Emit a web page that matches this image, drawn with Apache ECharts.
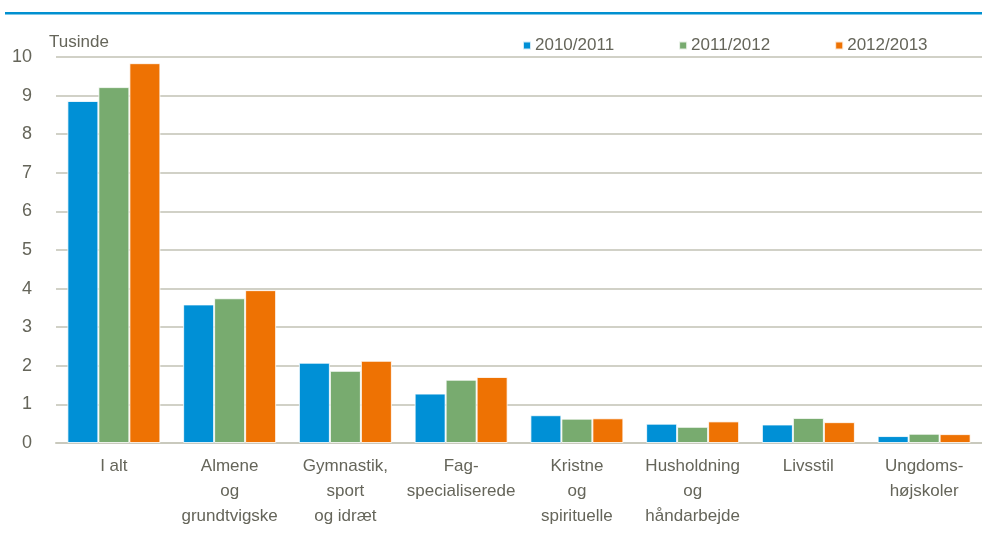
<!DOCTYPE html>
<html>
<head>
<meta charset="utf-8">
<script src="https://cdn.jsdelivr.net/npm/echarts@6/dist/echarts.min.js"></script>
<style>
html,body{margin:0;padding:0;background:#fff;}
#chart{width:982px;height:548px;}
</style>
</head>
<body>
<div id="chart"></div>
<script>
const categories = ['I alt', 'Almene\nog\ngrundtvigske', 'Gymnastik,\nsport\nog idræt', 'Fag-\nspecialiserede', 'Kristne\nog\nspirituelle', 'Husholdning\nog\nhåndarbejde', 'Livsstil', 'Ungdoms-\nhøjskoler'];
const seriesNames = ['2010/2011', '2011/2012', '2012/2013'];
const v2010 = [8.86, 3.59, 2.08, 1.28, 0.72, 0.50, 0.48, 0.18];
const v2011 = [9.22, 3.75, 1.87, 1.64, 0.63, 0.42, 0.65, 0.24];
const v2012 = [9.84, 3.96, 2.13, 1.71, 0.64, 0.56, 0.54, 0.23];
const yTicks = [0, 10, 1];

const FONT = "'Liberation Sans Narrow', 'Arial Narrow', 'Liberation Sans', sans-serif";
const TXT = '#65655a';
const colors = ['#0090d6', '#78ab6f', '#ee7203'];

const chart = echarts.init(document.getElementById('chart'), null, {renderer: 'canvas'});
const data = [v2010, v2011, v2012];
chart.setOption({
  animation: false,
  color: colors,
  textStyle: {fontFamily: FONT, color: TXT},
  grid: {left: 56, right: 0, top: 57, bottom: 105},
  legend: {
    data: seriesNames,
    left: 517, top: 32, width: 460,
    icon: 'rect', itemWidth: 8, itemHeight: 8, itemGap: 64,
    textStyle: {fontFamily: FONT, fontSize: 17, color: TXT, padding: [0, 0, 0, -1]}
  },
  xAxis: {
    type: 'category',
    data: categories,
    axisLine: {lineStyle: {color: '#c9c9bd', width: 2}},
    axisTick: {show: false},
    axisLabel: {interval: 0, margin: 11, fontSize: 17, lineHeight: 25, color: TXT, fontFamily: FONT}
  },
  yAxis: {
    type: 'value',
    min: yTicks[0], max: yTicks[1], interval: yTicks[2],
    name: 'Tusinde',
    nameLocation: 'end',
    nameGap: 6,
    nameTextStyle: {align: 'left', fontSize: 17, color: TXT, fontFamily: FONT, padding: [0, 0, 0, -7]},
    axisLine: {show: false},
    axisTick: {show: false},
    axisLabel: {margin: 24, fontSize: 18, color: TXT, fontFamily: FONT},
    splitLine: {lineStyle: {color: '#c2c2b5', width: 1.5}}
  },
  series: seriesNames.map((n, i) => ({
    name: n,
    type: 'bar',
    data: data[i],
    barWidth: 31,
    barGap: '0%',
    itemStyle: {color: colors[i], borderColor: 'rgba(255,255,255,0.8)', borderWidth: 1}
  })),
  graphic: [{
    type: 'rect',
    shape: {x: 5, y: 12, width: 977, height: 2.5},
    style: {fill: '#0090d0'}
  }]
});
</script>
</body>
</html>
